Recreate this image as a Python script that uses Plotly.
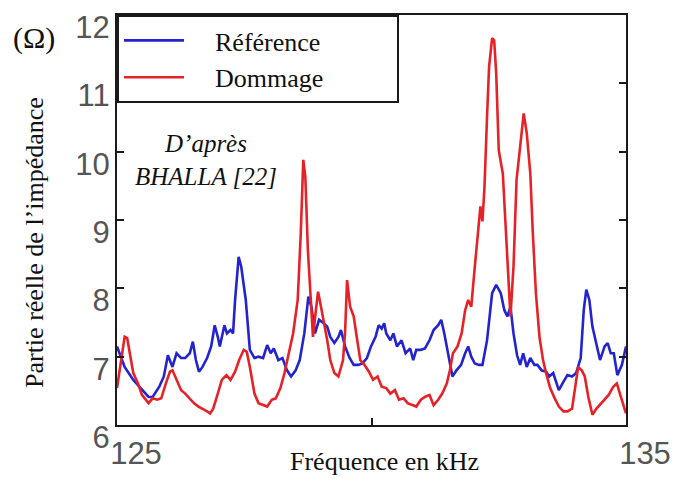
import plotly.graph_objects as go

# Frequency sweep (kHz) and real part of impedance (Ohm)
freq_ref = [125.00, 125.15, 125.32, 125.49, 125.62, 125.70, 125.83, 125.92, 126.00, 126.09,
            126.17, 126.26, 126.34, 126.43, 126.49, 126.55, 126.61, 126.68, 126.77, 126.85,
            126.92, 126.98, 127.02, 127.11, 127.16, 127.23, 127.28, 127.32, 127.39, 127.44,
            127.53, 127.61, 127.70, 127.78, 127.87, 127.95, 128.02, 128.08, 128.17, 128.25,
            128.34, 128.42, 128.51, 128.59, 128.68, 128.76, 128.82, 128.89, 128.97, 129.06,
            129.13, 129.19, 129.27, 129.35, 129.40, 129.48, 129.57, 129.65, 129.74, 129.82,
            129.91, 129.99, 130.08, 130.14, 130.20, 130.25, 130.29, 130.37, 130.43, 130.50,
            130.59, 130.67, 130.76, 130.82, 130.88, 130.97, 131.05, 131.14, 131.22, 131.31,
            131.37, 131.43, 131.52, 131.59, 131.67, 131.76, 131.84, 131.90, 131.96, 132.03,
            132.11, 132.18, 132.27, 132.37, 132.45, 132.54, 132.61, 132.67, 132.73, 132.79,
            132.86, 132.92, 132.98, 133.05, 133.12, 133.20, 133.26, 133.34, 133.43, 133.49,
            133.57, 133.68, 133.77, 133.85, 133.94, 134.02, 134.11, 134.17, 134.22, 134.28,
            134.34, 134.41, 134.49, 134.58, 134.64, 134.70, 134.76, 134.83, 134.92, 135.00]
z_ref = [7.15, 6.85, 6.66, 6.51, 6.41, 6.41, 6.56, 6.71, 7.02, 6.85,
         7.05, 6.98, 6.98, 7.05, 7.22, 6.95, 6.78, 6.85, 6.98, 7.15,
         7.46, 7.29, 7.15, 7.46, 7.34, 7.39, 7.34, 7.83, 8.46, 8.32,
         7.83, 7.10, 6.98, 7.00, 6.98, 7.17, 7.05, 7.12, 6.95, 6.98,
         6.80, 6.71, 6.80, 6.95, 7.34, 7.88, 7.73, 7.34, 7.54, 7.49,
         7.44, 7.29, 7.20, 7.29, 7.39, 7.15, 6.98, 6.88, 6.88, 6.90,
         6.98, 7.15, 7.29, 7.46, 7.41, 7.49, 7.34, 7.24, 7.34, 7.15,
         7.24, 7.05, 7.12, 6.95, 7.10, 7.10, 7.12, 7.24, 7.39, 7.46,
         7.54, 7.34, 7.00, 6.71, 6.80, 6.88, 7.05, 7.15, 7.00, 6.90,
         6.88, 6.88, 7.24, 7.93, 8.05, 7.93, 7.68, 7.59, 7.73, 7.34,
         7.02, 6.88, 7.05, 6.85, 6.98, 6.88, 6.88, 6.80, 6.78, 6.71,
         6.76, 6.51, 6.63, 6.73, 6.71, 6.76, 6.98, 7.68, 7.98, 7.83,
         7.44, 7.20, 6.95, 7.15, 7.20, 7.05, 7.05, 6.73, 6.88, 7.15]

freq_dmg = [125.00, 125.07, 125.15, 125.20, 125.24, 125.32, 125.41, 125.49, 125.62, 125.70,
            125.79, 125.87, 125.96, 126.04, 126.09, 126.17, 126.26, 126.34, 126.43, 126.51,
            126.60, 126.68, 126.77, 126.83, 126.89, 126.98, 127.06, 127.15, 127.23, 127.32,
            127.40, 127.49, 127.55, 127.61, 127.70, 127.78, 127.87, 127.95, 128.04, 128.12,
            128.21, 128.29, 128.36, 128.46, 128.55, 128.61, 128.66, 128.70, 128.75, 128.80,
            128.85, 128.90, 128.95, 128.99, 129.06, 129.13, 129.19, 129.27, 129.35, 129.44,
            129.48, 129.52, 129.58, 129.65, 129.72, 129.78, 129.86, 129.95, 130.03, 130.12,
            130.20, 130.29, 130.37, 130.46, 130.54, 130.63, 130.71, 130.80, 130.88, 130.97,
            131.05, 131.14, 131.22, 131.31, 131.39, 131.48, 131.54, 131.60, 131.69, 131.77,
            131.84, 131.90, 131.96, 132.03, 132.10, 132.14, 132.18, 132.22, 132.27, 132.31,
            132.37, 132.41, 132.45, 132.50, 132.58, 132.67, 132.73, 132.79, 132.85, 132.92,
            132.99, 133.05, 133.12, 133.17, 133.23, 133.30, 133.37, 133.43, 133.51, 133.60,
            133.68, 133.77, 133.85, 133.94, 134.02, 134.06, 134.13, 134.19, 134.26, 134.34,
            134.42, 134.51, 134.59, 134.66, 134.75, 134.82, 134.88, 134.97, 135.00]
z_dmg = [6.54, 6.90, 7.29, 7.27, 7.10, 6.76, 6.61, 6.44, 6.32, 6.39,
         6.37, 6.39, 6.61, 6.78, 6.80, 6.66, 6.51, 6.46, 6.39, 6.32,
         6.27, 6.24, 6.20, 6.17, 6.24, 6.46, 6.66, 6.73, 6.66, 6.78,
         6.95, 7.10, 7.07, 6.85, 6.46, 6.32, 6.29, 6.27, 6.37, 6.39,
         6.54, 6.76, 7.00, 7.34, 7.83, 8.80, 9.88, 9.63, 8.56, 7.83,
         7.29, 7.63, 7.95, 7.80, 7.54, 7.24, 6.95, 6.76, 6.71, 6.95,
         7.34, 8.12, 7.73, 7.59, 7.24, 6.95, 6.88, 6.78, 6.66, 6.71,
         6.56, 6.54, 6.46, 6.51, 6.37, 6.39, 6.32, 6.29, 6.27, 6.37,
         6.41, 6.44, 6.29, 6.37, 6.46, 6.61, 6.80, 7.05, 7.15, 7.34,
         7.68, 7.83, 7.73, 8.32, 8.90, 9.20, 8.98, 9.49, 10.51, 11.24,
         11.66, 11.63, 11.15, 10.02, 9.68, 8.41, 7.59, 8.32, 9.59, 10.07,
         10.56, 10.27, 9.68, 8.80, 7.93, 7.29, 6.95, 6.76, 6.54, 6.39,
         6.27, 6.20, 6.20, 6.24, 6.61, 6.85, 6.80, 6.71, 6.41, 6.15,
         6.24, 6.32, 6.39, 6.44, 6.56, 6.61, 6.46, 6.24, 6.17]

x_ticks = [125, 130, 135]
x_tick_text = ["125", "", "135"]
y_ticks = [6, 7, 8, 9, 10, 11, 12]

SERIF = "Liberation Serif, Times New Roman, serif"
SANS = "Liberation Sans, Arial, sans-serif"
NB = "\u00a0"

fig = go.Figure()
fig.add_trace(go.Scatter(x=freq_ref, y=z_ref, mode="lines",
                         name=NB * 4 + "Référence" + NB * 11,
                         line=dict(color="#2323cf", width=2.6)))
fig.add_trace(go.Scatter(x=freq_dmg, y=z_dmg, mode="lines",
                         name=NB * 4 + "Dommage",
                         line=dict(color="#e62229", width=2.6)))

axis_common = dict(showline=True, linecolor="#1a1a1a", linewidth=2, mirror="ticks",
                   ticks="inside", ticklen=7, tickwidth=1.5, tickcolor="#1a1a1a",
                   showgrid=False, zeroline=False, ticklabeloverflow="allow",
                   automargin=False,
                   tickfont=dict(family=SANS, size=31, color="#555555"))

fig.update_xaxes(range=[125, 135], tickvals=x_ticks, ticktext=x_tick_text,
                 ticklabelshift=19, **axis_common)
fig.update_yaxes(range=[6, 12], tickvals=y_ticks, ticklabelshift=12,
                 ticklabelstandoff=-1, **axis_common)

fig.add_annotation(x=126.75, y=9.88, xref="x", yref="y",
                   text="<i>D’après<br>BHALLA [22]</i>", showarrow=False,
                   xanchor="center", yanchor="middle",
                   font=dict(family=SERIF, size=25, color="#111"))
fig.add_annotation(x=-0.161, y=0.444, xref="paper", yref="paper",
                   text="Partie réelle de l’impédance", textangle=-90, showarrow=False,
                   xanchor="center", yanchor="middle",
                   font=dict(family=SERIF, size=26, color="#111"))
fig.add_annotation(x=0.5265, y=-0.09, xref="paper", yref="paper",
                   text="Fréquence en kHz", showarrow=False,
                   xanchor="center", yanchor="middle",
                   font=dict(family=SERIF, size=26, color="#111"))
fig.add_annotation(x=-0.164, y=0.945, xref="paper", yref="paper",
                   text="(Ω)", showarrow=False,
                   xanchor="center", yanchor="middle",
                   font=dict(family=SERIF, size=30, color="#111"))

fig.update_layout(
    width=677, height=479,
    margin=dict(l=117, r=51, t=15, b=54, autoexpand=False),
    paper_bgcolor="white", plot_bgcolor="white",
    showlegend=True,
    legend=dict(x=0, y=1, xanchor="left", yanchor="top",
                bgcolor="white", bordercolor="#1a1a1a", borderwidth=2,
                itemwidth=60, font=dict(family=SERIF, size=26, color="#111")),
)

fig.write_html("out.html")
